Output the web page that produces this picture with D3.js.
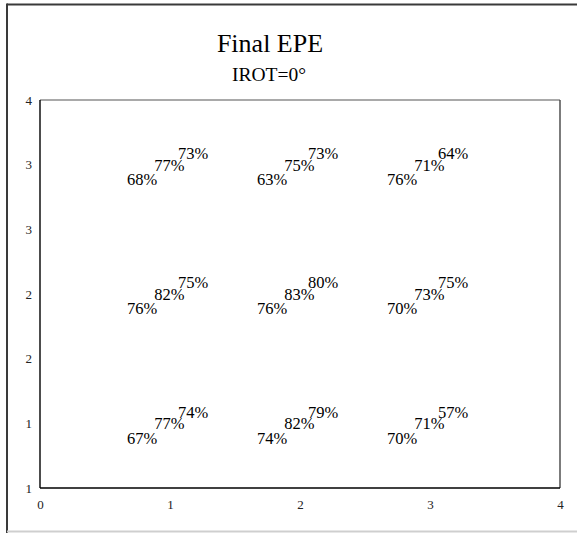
<!DOCTYPE html>
<html>
<head>
<meta charset="utf-8">
<script src="https://cdn.jsdelivr.net/npm/d3@7"></script>
<style>
  html, body { margin: 0; padding: 0; background: #fff; }
  svg { display: block; }
  svg text { font-family: "Liberation Serif", "Times New Roman", serif; }
</style>
</head>
<body>
<svg id="chart" width="577" height="533"></svg>
<script>
// Grid positions of the nine cases (column, row)
const gridX = [1, 2, 3, 1, 2, 3, 1, 2, 3];
const gridY = [3, 3, 3, 2, 2, 2, 1, 1, 1];

// Three percentages written at each grid position (lower-left, middle, upper-right)
const lowerValues  = [68, 63, 76, 76, 76, 70, 67, 74, 70];
const middleValues = [77, 75, 71, 82, 83, 73, 77, 82, 71];
const upperValues  = [73, 73, 64, 75, 80, 75, 74, 79, 57];

// Axis ticks and their printed labels
const xTicks = [0, 1, 2, 3, 4];
const yTicks = [0.5, 1, 1.5, 2, 2.5, 3, 3.5];
const yTickLabels = ["1", "1", "2", "2", "3", "3", "4"];

const titleText = "Final EPE";
const subtitleText = "IROT=0°";

const SERIF = '"Liberation Serif", "Times New Roman", serif';

const svg = d3.select("#chart");
const W = 577, H = 533;
const plot = { left: 40, right: 560, top: 100, bottom: 488 };

const x = d3.scaleLinear().domain([0, 4]).range([plot.left, plot.right]);
const y = d3.scaleLinear().domain([0.5, 3.5]).range([plot.bottom, plot.top]);

// Figure frame
svg.append("line").attr("x1", 7).attr("x2", W).attr("y1", 4.5).attr("y2", 4.5)
  .attr("stroke", "#3a3a3a").attr("stroke-width", 2);
svg.append("line").attr("x1", 7).attr("x2", 7).attr("y1", 3.5).attr("y2", H)
  .attr("stroke", "#3a3a3a").attr("stroke-width", 2);
svg.append("line").attr("x1", 7).attr("x2", W).attr("y1", 531.5).attr("y2", 531.5)
  .attr("stroke", "#cfcfcf").attr("stroke-width", 2);

// Titles
svg.append("text").attr("x", 270).attr("y", 52).attr("text-anchor", "middle")
  .style("font-family", SERIF).style("font-size", "26px").attr("fill", "#000").text(titleText);
svg.append("text").attr("x", 269).attr("y", 81).attr("text-anchor", "middle")
  .style("font-family", SERIF).style("font-size", "19.5px").attr("fill", "#000").text(subtitleText);

// Axes (no tick marks, labels only)
const xAxis = d3.axisBottom(x).tickValues(xTicks).tickSize(0).tickPadding(12)
  .tickFormat(d3.format("d"));
const gx = svg.append("g").attr("transform", `translate(0,${plot.bottom})`).call(xAxis);
gx.select(".domain").remove();
gx.selectAll("text").style("font-family", SERIF)
  .style("font-size", "13px").attr("fill", "#222");

const yAxis = d3.axisLeft(y).tickValues(yTicks).tickSize(0).tickPadding(8)
  .tickFormat((d, i) => yTickLabels[i]);
const gy = svg.append("g").attr("transform", `translate(${plot.left},0)`).call(yAxis);
gy.select(".domain").remove();
gy.selectAll("text").style("font-family", SERIF)
  .style("font-size", "13px").attr("fill", "#222");

// Plot box
svg.append("line").attr("x1", plot.left).attr("x2", plot.right).attr("y1", plot.top).attr("y2", plot.top)
  .attr("stroke", "#555").attr("stroke-width", 1.2);
svg.append("line").attr("x1", plot.right).attr("x2", plot.right).attr("y1", plot.top).attr("y2", plot.bottom)
  .attr("stroke", "#444").attr("stroke-width", 1.4);
svg.append("line").attr("x1", plot.left).attr("x2", plot.left).attr("y1", plot.top).attr("y2", plot.bottom)
  .attr("stroke", "#000").attr("stroke-width", 1.4);
svg.append("line").attr("x1", plot.left).attr("x2", plot.right).attr("y1", plot.bottom).attr("y2", plot.bottom)
  .attr("stroke", "#000").attr("stroke-width", 1.6);

// Percent labels: three stacked diagonally around each grid position
const layers = [
  { values: lowerValues,  dx: -0.215, dy: -0.11 },
  { values: middleValues, dx: -0.005, dy: 0.0 },
  { values: upperValues,  dx: 0.178,  dy: 0.09 }
];

layers.forEach(layer => {
  svg.append("g").selectAll("text")
    .data(layer.values)
    .join("text")
    .attr("x", (d, i) => x(gridX[i] + layer.dx))
    .attr("y", (d, i) => y(gridY[i] + layer.dy))
    .attr("dy", "0.36em")
    .attr("text-anchor", "middle")
    .style("font-family", SERIF)
    .style("font-size", "16.5px")
    .attr("fill", "#000")
    .text(d => d + "%");
});
</script>
</body>
</html>
